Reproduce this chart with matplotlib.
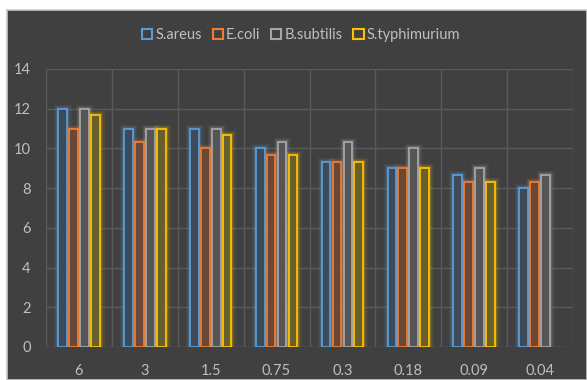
import matplotlib
matplotlib.use("Agg")
import matplotlib.pyplot as plt
from matplotlib.patches import Rectangle
import numpy as np

concentrations = ["6", "3", "1.5", "0.75", "0.3", "0.18", "0.09", "0.04"]
s_areus = [12, 11, 11, 10, 9.33, 9, 8.67, 8]
e_coli = [11, 10.33, 10, 9.67, 9.33, 9, 8.33, 8.33]
b_subtilis = [12, 11, 11, 10.33, 10.33, 10, 9, 8.67]
s_typhimurium = [11.67, 11, 10.67, 9.67, 9.33, 9, 8.33, np.nan]

series_names = ["S.areus", "E.coli", "B.subtilis", "S.typhimurium"]
series_values = [s_areus, e_coli, b_subtilis, s_typhimurium]
edge_colors = ["#5b9bd5", "#ed7d31", "#a5a5a5", "#ffc000"]
fill_colors = ["#3e4a58", "#6a4838", "#555555", "#65602e"]

plt.rcParams["font.family"] = ["Lato", "DejaVu Sans"]

W, H = 587, 380
fig = plt.figure(figsize=(W / 100, H / 100), dpi=100)
fig.patch.set_facecolor("white")

# dark chart area with a thin light frame, drawn beneath the plot
bg_ax = fig.add_axes([7 / W, 0, 1 - 7 / W, (H - 10) / H], zorder=-5)
bg_ax.set_facecolor("#404040")
bg_ax.set_xticks([])
bg_ax.set_yticks([])
for s in bg_ax.spines.values():
    s.set_color("#c8c8c8")
    s.set_linewidth(1.2)

ax = fig.add_axes([46 / W, (H - 347) / H, (573 - 46) / W, (347 - 69) / H], zorder=1)
ax.set_facecolor("none")

x = np.arange(len(concentrations))
step = 0.166
width = 0.132
offsets = (np.arange(4) - 1.5) * step

for vals, off, ec, fc in zip(series_values, offsets, edge_colors, fill_colors):
    xs = x + off
    # soft glow around each bar
    for lw, a in [(6.5, 0.08), (4.2, 0.13), (2.6, 0.22)]:
        ax.bar(xs, vals, width=width, facecolor="none", edgecolor=ec,
               linewidth=lw, alpha=a, zorder=2)
    ax.bar(xs, vals, width=width, facecolor=fc, edgecolor=ec,
           linewidth=1.3, zorder=3)

ax.set_xlim(-0.5, len(concentrations) - 0.5)
ax.set_ylim(0, 14)
ax.set_yticks(np.arange(0, 15, 2))
ax.set_xticks(x)
ax.set_xticklabels(concentrations)
ax.set_xticks(np.arange(-0.5, len(concentrations), 1), minor=True)

ax.grid(True, which="major", axis="y", color="#5a5a5a", linewidth=1, zorder=1)
ax.grid(True, which="minor", axis="x", color="#5a5a5a", linewidth=1, zorder=1)
ax.grid(False, which="major", axis="x")
ax.set_axisbelow(True)
for s in ax.spines.values():
    s.set_visible(False)

ax.tick_params(axis="both", which="both", length=0, colors="#bfbfbf", labelsize=10.5)
ax.tick_params(axis="y", pad=11)
ax.tick_params(axis="x", pad=12)

handles = [Rectangle((0, 0), 1, 1, facecolor="none", edgecolor=c, linewidth=1.5)
           for c in edge_colors]
leg = fig.legend(handles, series_names, loc="center", bbox_to_anchor=(301 / W, 1 - 35 / H),
                 ncol=4, frameon=False, fontsize=10.5, handlelength=0.7, handleheight=0.7,
                 handletextpad=0.2, columnspacing=0.75)
for t in leg.get_texts():
    t.set_color("#bfbfbf")

fig.savefig("out.png", dpi=100, facecolor=fig.get_facecolor())
